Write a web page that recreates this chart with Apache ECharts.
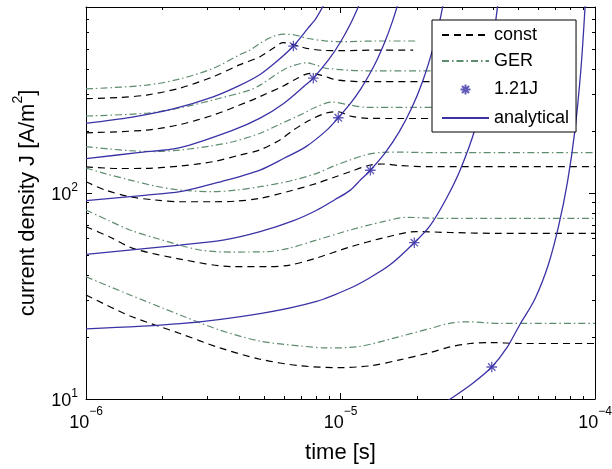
<!DOCTYPE html>
<html>
<head>
<meta charset="utf-8">
<script src="https://cdn.jsdelivr.net/npm/echarts@6/dist/echarts.min.js"></script>
<style>html,body{margin:0;padding:0;background:#fff}#main{width:612px;height:469px}</style>
</head>
<body>
<div id="main"></div>
<script>
// [time s, current density A/m^2], top set first
var constJ1 = [[1e-6,287],[1.36e-6,291],[1.73e-6,299],[2.34e-6,323],[3.16e-6,367],[4.03e-6,420],[4.83e-6,459],[5.38e-6,500],[5.96e-6,537],[6.62e-6,523],[7.37e-6,504],[8.7e-6,492],[9.95e-6,491],[1.4e-5,494],[1.93e-5,494]];
var constJ2 = [[1e-6,196],[1.73e-6,202],[2.34e-6,215],[3.16e-6,239],[4.41e-6,280],[4.83e-6,294],[5.96e-6,331],[6.69e-6,358],[7.59e-6,381],[8.46e-6,372],[9.66e-6,354],[1.27e-5,347],[3e-5,348]];
var constJ3 = [[1e-6,134],[1.36e-6,131.5],[1.73e-6,131.8],[2.34e-6,135.2],[3.16e-6,142],[4.03e-6,153],[4.83e-6,162],[5.78e-6,181],[6.52e-6,202],[7.59e-6,226],[8.77e-6,244.5],[9.8e-6,248],[1.09e-5,236.5],[1.27e-5,230.5],[1.71e-5,230],[4e-5,230]];
var constJ4 = [[1e-6,113.4],[1.19e-6,103.4],[1.49e-6,95.9],[1.87e-6,92.5],[2.34e-6,90.7],[3.16e-6,90.7],[3.92e-6,91.4],[4.83e-6,94.2],[6.33e-6,102.3],[8.06e-6,111.4],[9.51e-6,119.6],[1.09e-5,126.9],[1.31e-5,136.8],[1.47e-5,138.3],[1.71e-5,136],[2.25e-5,134.2],[1e-4,134.2]];
var constJ5 = [[1e-6,68.6],[1.24e-6,61.2],[1.53e-6,53.9],[2.34e-6,47.8],[3.78e-6,43.9],[5.13e-6,43.9],[6.33e-6,44.7],[8.06e-6,48.4],[1.09e-5,54.7],[1.47e-5,60.5],[1.99e-5,65],[2.69e-5,64.3],[4.23e-5,63.7],[1e-4,63.7]];
var constJ6 = [[1e-6,32],[1.49e-6,25.3],[2.34e-6,20.8],[3.36e-6,17.7],[4.83e-6,15.6],[6.93e-6,14.5],[9.8e-6,14.2],[1.31e-5,14.5],[1.71e-5,15.5],[2.25e-5,16.8],[2.69e-5,17.9],[3.23e-5,18.6],[3.87e-5,18.8],[5.07e-5,18.6],[1e-4,18.6]];

var gerJ1 = [[1e-6,320],[1.73e-6,334],[2.34e-6,358],[3.16e-6,403],[4.03e-6,470],[4.41e-6,494],[4.83e-6,533],[5.38e-6,572],[5.96e-6,591],[6.62e-6,585],[7.37e-6,564],[8.7e-6,548],[9.95e-6,543],[1.4e-5,547],[1.99e-5,547]];
var gerJ2 = [[1e-6,236.5],[1.73e-6,244],[2.34e-6,259],[3.16e-6,283],[4.41e-6,316],[4.83e-6,334],[5.96e-6,396],[6.62e-6,418],[7.37e-6,429],[8e-6,418],[8.83e-6,403],[1.27e-5,392],[3e-5,392]];
var gerJ3 = [[1e-6,167.8],[1.24e-6,163.5],[1.49e-6,160.5],[1.87e-6,159],[2.34e-6,161.7],[3.07e-6,169],[3.78e-6,177.4],[4.83e-6,195],[5.78e-6,216],[6.93e-6,239],[7.94e-6,260],[9.26e-6,276.5],[1.09e-5,267.4],[1.27e-5,260.6],[1.71e-5,260.6],[4e-5,260.6]];
var gerJ4 = [[1e-6,132.2],[1.19e-6,124.3],[1.49e-6,115.6],[1.87e-6,108.1],[2.34e-6,103.4],[3.16e-6,101.5],[3.92e-6,103.4],[4.83e-6,107.3],[6.33e-6,114.4],[8.06e-6,124.6],[9.51e-6,136],[1.09e-5,144.6],[1.25e-5,153],[1.47e-5,157.6],[1.71e-5,158],[2.25e-5,157],[1e-4,157]];
var gerJ5 = [[1e-6,82.7],[1.24e-6,73.1],[1.49e-6,66.1],[1.87e-6,60.5],[2.8e-6,52.9],[3.78e-6,51.7],[5.13e-6,51.9],[6.33e-6,54.1],[8.06e-6,59.1],[1.09e-5,66.1],[1.47e-5,72.6],[1.82e-5,76.2],[2.46e-5,75.4],[1e-4,75.4]];
var gerJ6 = [[1e-6,39.2],[1.49e-6,32],[2.34e-6,25.6],[3.36e-6,21.6],[4.83e-6,19.1],[6.93e-6,18.1],[8.83e-6,17.7],[1.19e-5,18],[1.71e-5,20.1],[2.25e-5,22],[2.68e-5,23.3],[3.13e-5,23.7],[4.23e-5,23.3],[1e-4,23.3]];

var anaJ1 = [[1e-6,218],[1.5e-6,233],[2.2e-6,256],[3.16e-6,293],[4e-6,332],[4.83e-6,376],[5.7e-6,442],[6.53e-6,517],[7.47e-6,633],[8e-6,703],[8.6e-6,820]];
var anaJ2 = [[1e-6,147],[1.6e-6,157],[2.34e-6,166],[3.78e-6,202],[4.83e-6,231],[6e-6,273],[7.32e-6,336],[7.82e-6,361],[9e-6,445],[1e-5,541],[1.1e-5,671],[1.18e-5,811]];
var anaJ3 = [[1e-6,91.8],[1.7e-6,97.5],[2.34e-6,101.5],[3.4e-6,113.7],[4.83e-6,129.3],[6e-6,147.5],[7.32e-6,168],[8.83e-6,202],[9.8e-6,232],[1.1e-5,274.6],[1.2e-5,319.6],[1.3e-5,377],[1.4e-5,450],[1.5e-5,548],[1.6e-5,681],[1.68e-5,825]];
var anaJ4 = [[1e-6,50.4],[2.34e-6,55.9],[3.5e-6,59.2],[4.83e-6,64.9],[6.5e-6,73.2],[8.06e-6,82.5],[9.5e-6,92.8],[1.09e-5,103],[1.2e-5,115.9],[1.31e-5,129],[1.5e-5,157],[1.7e-5,198],[1.9e-5,257],[2.1e-5,347],[2.3e-5,495],[2.45e-5,678],[2.55e-5,864]];
var anaJ5 = [[1e-6,21.9],[2.34e-6,23.2],[4.83e-6,26],[8.06e-6,29.8],[1.09e-5,34.5],[1.3e-5,38.7],[1.565e-5,44.8],[1.95e-5,57.4],[2.25e-5,69.5],[2.6e-5,93.6],[2.95e-5,129],[3.38e-5,205],[3.7e-5,333],[4e-5,582],[4.2e-5,936]];
var anaJ6 = [[2.5e-5,9.45],[2.7e-5,10],[3.3e-5,11.9],[3.93e-5,14.3],[4.5e-5,17.7],[5.07e-5,23],[5.8e-5,30.5],[6.55e-5,44.7],[7.2e-5,69.4],[7.8e-5,113.5],[8.34e-5,202],[8.8e-5,397],[9.14e-5,800],[9.3e-5,1241]];

var starJ = [[6.53e-6,517],[7.82e-6,361],[9.8e-6,232],[1.31e-5,129],[1.95e-5,57.4],[3.93e-5,14.3]];

var xMajor = [1e-6, 1e-5, 1e-4];
var xMinor = [2e-6,3e-6,4e-6,5e-6,6e-6,7e-6,8e-6,9e-6,2e-5,3e-5,4e-5,5e-5,6e-5,7e-5,8e-5,9e-5];
var yMajor = [10, 100];
var yMinor = [20,30,40,50,60,70,80,90,200,300,400,500,600,700];

var FONT = '"Liberation Sans", Arial, Helvetica, sans-serif';
var BLUE = '#3b32a6';
var GREEN = '#5e8c6e';

var chart = echarts.init(document.getElementById('main'), null, { renderer: 'canvas' });

function powLabel(v) {
  var e = Math.round(Math.log10(v));
  return '{b|10}{s|' + (e < 0 ? '\u2212' + (-e) : e) + '}';
}

function xAx(pos, major) {
  return {
    type: 'log', logBase: 10, min: 1e-6, max: 1e-4, position: pos,
    axisLine: { show: major, lineStyle: { color: '#000', width: 1 } },
    axisTick: { show: true, inside: true, length: major ? 6 : 3, customValues: major ? xMajor : xMinor, lineStyle: { color: '#000', width: 1 } },
    axisLabel: {
      show: major && pos === 'bottom', customValues: xMajor, margin: 7, formatter: powLabel,
      rich: {
        b: { fontSize: 18, fontFamily: FONT, color: '#000', verticalAlign: 'bottom', lineHeight: 26 },
        s: { fontSize: 12, fontFamily: FONT, color: '#000', verticalAlign: 'top' }
      }
    },
    splitLine: { show: false }
  };
}
function yAx(pos, major) {
  return {
    type: 'log', logBase: 10, min: 10, max: 800, position: pos,
    axisLine: { show: major, lineStyle: { color: '#000', width: 1 } },
    axisTick: { show: true, inside: true, length: major ? 6 : 3, customValues: major ? yMajor : yMinor, lineStyle: { color: '#000', width: 1 } },
    axisLabel: {
      show: major && pos === 'left', customValues: yMajor, margin: 8, formatter: powLabel,
      rich: {
        b: { fontSize: 18, fontFamily: FONT, color: '#000', verticalAlign: 'bottom', lineHeight: 22 },
        s: { fontSize: 12, fontFamily: FONT, color: '#000', verticalAlign: 'top' }
      }
    },
    splitLine: { show: false }
  };
}

var xAxes = [xAx('bottom', true), xAx('bottom', false), xAx('top', true), xAx('top', false)];
xAxes[0].name = 'time [s]';
xAxes[0].nameLocation = 'middle';
xAxes[0].nameGap = 43;
xAxes[0].nameTextStyle = { fontSize: 22, fontFamily: FONT, color: '#000' };

var yAxes = [yAx('left', true), yAx('left', false), yAx('right', true), yAx('right', false)];
yAxes[0].name = '{n|current density J [A/m}{s|2}{n|]}';
yAxes[0].nameLocation = 'middle';
yAxes[0].nameGap = 47;
yAxes[0].nameTextStyle = {
  rich: {
    n: { fontSize: 22, fontFamily: FONT, color: '#000', verticalAlign: 'bottom', lineHeight: 28 },
    s: { fontSize: 14, fontFamily: FONT, color: '#000', verticalAlign: 'top' }
  }
};

var series = [];
[constJ1, constJ2, constJ3, constJ4, constJ5, constJ6].forEach(function (d) {
  series.push({ type: 'line', name: 'const', data: d, symbol: 'none', smooth: 0.3,
    lineStyle: { color: '#000', width: 1.2, type: [7, 5] }, itemStyle: { color: '#000' }, z: 2 });
});
[gerJ1, gerJ2, gerJ3, gerJ4, gerJ5, gerJ6].forEach(function (d) {
  series.push({ type: 'line', name: 'GER', data: d, symbol: 'none', smooth: 0.3,
    lineStyle: { color: GREEN, width: 1.2, type: [7, 3, 1.5, 3] }, itemStyle: { color: GREEN }, z: 2 });
});
[anaJ1, anaJ2, anaJ3, anaJ4, anaJ5, anaJ6].forEach(function (d) {
  series.push({ type: 'line', name: 'analytical', data: d, symbol: 'none', smooth: 0.3,
    lineStyle: { color: BLUE, width: 1.3 }, itemStyle: { color: BLUE }, z: 3 });
});
series.push({
  type: 'scatter', name: '1.21J', data: starJ, z: 4,
  symbol: 'path://M-9,-9M9,9M0,-5L0,5M-5,0L5,0M-3.5,-3.5L3.5,3.5M-3.5,3.5L3.5,-3.5',
  symbolSize: 19,
  itemStyle: { color: 'none', borderColor: BLUE, borderWidth: 1.3 }
});

var hideDot = { opacity: 0 };
var option = {
  animation: false,
  backgroundColor: '#fff',
  grid: { left: 86, right: 17, top: 7, bottom: 70, containLabel: false, outerBoundsMode: 'none' },
  legend: {
    left: 432, top: 20, orient: 'vertical',
    itemWidth: 47, itemHeight: 18, itemGap: 8,
    padding: [6, 7, 5, 9],
    borderColor: '#000', borderWidth: 1, borderRadius: 0, backgroundColor: '#fff',
    selectedMode: false,
    textStyle: { fontSize: 18, fontFamily: FONT, color: '#000' },
    data: [
      { name: 'const', itemStyle: hideDot },
      { name: 'GER', itemStyle: hideDot },
      { name: '1.21J' },
      { name: 'analytical', itemStyle: hideDot }
    ]
  },
  xAxis: xAxes,
  yAxis: yAxes,
  series: series
};
chart.setOption(option);
</script>
</body>
</html>
